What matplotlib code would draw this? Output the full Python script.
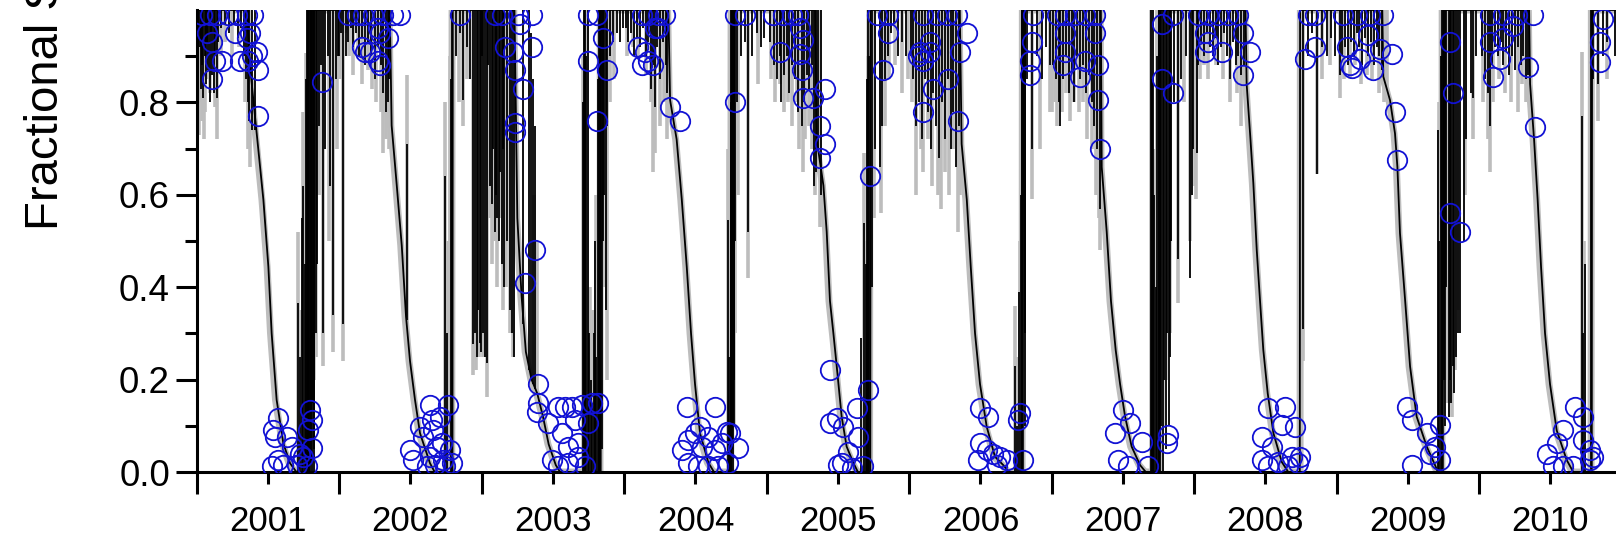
import matplotlib
matplotlib.use("Agg")
import matplotlib.pyplot as plt
import numpy as np

plt.rcParams['font.family'] = ['Liberation Sans', 'DejaVu Sans']

YEARS = [2001, 2002, 2003, 2004, 2005, 2006, 2007, 2008, 2009, 2010]
Y_TICKS = [0.0, 0.2, 0.4, 0.6, 0.8]
Y_LABEL = "Fractional SCA"

# ---- black model: envelope vertices (decimal year, value) ----
BLK_ENV_X = [2001.000, 2001.350, 2001.380, 2001.421, 2001.468, 2001.503, 2001.526, 2001.561, 2001.608, 2001.655, 2001.700, 2001.795, 2001.797,
             2002.355, 2002.368, 2002.404, 2002.439, 2002.469, 2002.497, 2002.532, 2002.567, 2002.637, 2002.670, 2002.795, 2002.797,
             2003.230, 2003.250, 2003.280, 2003.310, 2003.350, 2003.390, 2003.430, 2003.470, 2003.520, 2003.550, 2003.835, 2003.837,
             2004.310, 2004.322, 2004.368, 2004.404, 2004.439, 2004.469, 2004.497, 2004.532, 2004.591, 2004.630, 2004.752, 2004.754,
             2005.340, 2005.351, 2005.398, 2005.421, 2005.444, 2005.468, 2005.491, 2005.526, 2005.561, 2005.608, 2005.640, 2005.727, 2005.729,
             2006.355, 2006.368, 2006.404, 2006.432, 2006.462, 2006.497, 2006.544, 2006.602, 2006.660, 2006.700, 2006.798, 2006.800,
             2007.345, 2007.351, 2007.386, 2007.416, 2007.449, 2007.480, 2007.515, 2007.561, 2007.620, 2007.660, 2007.760, 2007.762,
             2008.360, 2008.368, 2008.392, 2008.415, 2008.439, 2008.462, 2008.485, 2008.516, 2008.556, 2008.614, 2008.660, 2008.741, 2008.743,
             2009.320, 2009.327, 2009.374, 2009.409, 2009.426, 2009.444, 2009.480, 2009.515, 2009.561, 2009.632, 2009.690, 2009.710, 2009.745, 2009.747,
             2010.350, 2010.357, 2010.385, 2010.410, 2010.434, 2010.462, 2010.497, 2010.544, 2010.614, 2010.660, 2010.790, 2010.792, 2011.000]
BLK_ENV_V = [1, 1, .86, .733, .589, .444, .300, .156, .062, .019, 0, 0, 1,
             1, .75, .62, .49, .336, .24, .156, .084, .019, 0, 0, 1,
             1, .55, .38, .26, .20, .17, .12, .06, .015, 0, 0, 1,
             1, .805, .72, .59, .444, .30, .19, .084, .02, 0, 0, 1,
             1, .72, .62, .52, .37, .30, .23, .12, .055, .02, 0, 0, 1,
             1, .71, .59, .444, .30, .19, .098, .033, .015, 0, 0, 1,
             1, .66, .52, .37, .264, .19, .12, .055, .015, 0, 0, 1,
             1, .84, .733, .625, .48, .37, .264, .17, .084, .022, 0, 0, 1,
             1, .856, .805, .733, .66, .517, .372, .228, .12, .055, .015, 0, 0, 1,
             1, .84, .72, .59, .444, .30, .19, .09, .026, 0, 0, 1, 1]

# ---- grey model: envelope vertices (melts slightly earlier) ----
GRY_ENV_X = [2001.000, 2001.345, 2001.372, 2001.412, 2001.458, 2001.494, 2001.518, 2001.553, 2001.600, 2001.648, 2001.690, 2001.790, 2001.792,
             2002.350, 2002.362, 2002.397, 2002.432, 2002.462, 2002.490, 2002.525, 2002.560, 2002.630, 2002.665, 2002.790, 2002.792,
             2003.225, 2003.245, 2003.275, 2003.305, 2003.345, 2003.385, 2003.425, 2003.465, 2003.515, 2003.545, 2003.830, 2003.832,
             2004.305, 2004.316, 2004.361, 2004.397, 2004.432, 2004.462, 2004.490, 2004.525, 2004.584, 2004.625, 2004.748, 2004.750,
             2005.335, 2005.345, 2005.391, 2005.414, 2005.437, 2005.461, 2005.484, 2005.519, 2005.554, 2005.601, 2005.635, 2005.722, 2005.724,
             2006.350, 2006.362, 2006.397, 2006.425, 2006.455, 2006.490, 2006.537, 2006.595, 2006.653, 2006.695, 2006.792, 2006.794,
             2007.340, 2007.346, 2007.379, 2007.409, 2007.442, 2007.473, 2007.508, 2007.554, 2007.613, 2007.655, 2007.750, 2007.752,
             2008.355, 2008.362, 2008.385, 2008.408, 2008.432, 2008.455, 2008.478, 2008.509, 2008.549, 2008.607, 2008.655, 2008.743, 2008.745,
             2009.315, 2009.322, 2009.367, 2009.402, 2009.419, 2009.437, 2009.473, 2009.508, 2009.554, 2009.625, 2009.683, 2009.705, 2009.738, 2009.740,
             2010.345, 2010.351, 2010.378, 2010.403, 2010.427, 2010.455, 2010.490, 2010.537, 2010.607, 2010.655, 2010.785, 2010.787, 2011.000]
GRY_ENV_V = BLK_ENV_V[:]

# ---- black model: downward spikes from 1.0 (x, lowest value) ----
BLK_DIP_X = [2001.005, 2001.012, 2001.020, 2001.028, 2001.035, 2001.045, 2001.055, 2001.062, 2001.070, 2001.080, 2001.090, 2001.100, 2001.110,
             2001.120, 2001.130, 2001.140, 2001.150, 2001.170, 2001.200, 2001.230, 2001.260, 2001.290, 2001.310, 2001.330, 2001.345, 2001.360,
             2001.370, 2001.390, 2001.410, 2001.800, 2001.805, 2001.810, 2001.815, 2001.820, 2001.826, 2001.835, 2001.845, 2001.855, 2001.870,
             2001.885, 2001.900, 2001.920, 2001.935, 2001.955, 2001.975, 2001.990,
             2002.000, 2002.015, 2002.029, 2002.045, 2002.060, 2002.080, 2002.100, 2002.120, 2002.140, 2002.160, 2002.180, 2002.200, 2002.220,
             2002.250, 2002.270, 2002.290, 2002.310, 2002.325, 2002.340, 2002.350, 2002.820, 2002.850, 2002.871, 2002.900, 2002.920, 2002.941,
             2002.955, 2002.965, 2002.975, 2002.985, 2002.995,
             2003.005, 2003.012, 2003.020, 2003.035, 2003.045, 2003.060, 2003.070, 2003.080, 2003.090, 2003.100, 2003.110, 2003.120, 2003.130,
             2003.140, 2003.150, 2003.160, 2003.180, 2003.200, 2003.215, 2003.225, 2003.845, 2003.850, 2003.860, 2003.870, 2003.880, 2003.900,
             2003.920, 2003.950, 2003.970, 2003.990,
             2004.010, 2004.030, 2004.050, 2004.070, 2004.090, 2004.110, 2004.130, 2004.150, 2004.170, 2004.190, 2004.205, 2004.217, 2004.230,
             2004.250, 2004.270, 2004.290, 2004.300, 2004.758, 2004.763, 2004.768, 2004.773, 2004.780, 2004.790, 2004.820, 2004.850, 2004.871,
             2004.900, 2004.930, 2004.960, 2004.980,
             2005.020, 2005.050, 2005.070, 2005.090, 2005.100, 2005.120, 2005.140, 2005.160, 2005.180, 2005.200, 2005.220, 2005.245, 2005.260,
             2005.280, 2005.300, 2005.320, 2005.330, 2005.345, 2005.360, 2005.380, 2005.740, 2005.760, 2005.795, 2005.810, 2005.830, 2005.850,
             2005.870, 2005.890, 2005.920, 2005.950, 2005.980,
             2006.010, 2006.030, 2006.050, 2006.070, 2006.090, 2006.110, 2006.130, 2006.150, 2006.170, 2006.190, 2006.210, 2006.230, 2006.250,
             2006.270, 2006.290, 2006.310, 2006.330, 2006.350, 2006.810, 2006.815, 2006.830, 2006.860, 2006.900, 2006.930, 2006.960, 2006.990,
             2007.010, 2007.030, 2007.050, 2007.060, 2007.080, 2007.100, 2007.120, 2007.140, 2007.160, 2007.180, 2007.200, 2007.220, 2007.240,
             2007.260, 2007.280, 2007.300, 2007.320, 2007.340, 2007.770, 2007.780, 2007.790, 2007.800, 2007.810, 2007.820, 2007.830, 2007.840,
             2007.860, 2007.889, 2007.910, 2007.940, 2007.971, 2007.985, 2007.995,
             2008.018, 2008.030, 2008.050, 2008.070, 2008.090, 2008.110, 2008.130, 2008.150, 2008.170, 2008.190, 2008.210, 2008.230, 2008.250,
             2008.270, 2008.290, 2008.310, 2008.330, 2008.350, 2008.765, 2008.800, 2008.830, 2008.860, 2008.900, 2008.930, 2008.960, 2008.990,
             2009.020, 2009.040, 2009.060, 2009.080, 2009.100, 2009.120, 2009.140, 2009.160, 2009.180, 2009.200, 2009.220, 2009.240, 2009.260,
             2009.280, 2009.300, 2009.315, 2009.752, 2009.760, 2009.770, 2009.785, 2009.795, 2009.805, 2009.815, 2009.825, 2009.840, 2009.850,
             2009.866, 2009.890, 2009.910, 2009.940, 2009.960, 2009.980,
             2010.020, 2010.040, 2010.060, 2010.076, 2010.090, 2010.110, 2010.130, 2010.150, 2010.170, 2010.190, 2010.210, 2010.230, 2010.250,
             2010.270, 2010.290, 2010.310, 2010.330, 2010.345, 2010.800, 2010.836, 2010.870, 2010.900, 2010.950]
BLK_DIP_LO = [.85, .80, .92, .83, .88, .81, .90, .84, .93, .87, .80, .95, .86,
              .82, .90, .81, .93, .96, .97, .95, .97, .94, .96, .90, .85, .80,
              .76, .74, .74, .02, .10, .0, .15, .05, .0, .30, .45, .75, .88,
              .30, .70, .90, .62, .34, .85, .90,
              .90, .95, .32, .90, .93, .96, .92, .95, .90, .94, .88, .93, .90,
              .85, .92, .88, .82, .78, .80, .85, .90, .95, .805, .92, .85, .278,
              .30, .25, .35, .28, .26,
              .90, .30, .25, .235, .88, .62, .58, .70, .52, .60, .55, .50, .65,
              .45, .70, .40, .50, .35, .30, .25, .05, .50, .60, .35, .75, .90,
              .93, .95, .93, .96,
              .96, .93, .95, .90, .94, .92, .96, .90, .93, .83, .88, .79, .92,
              .85, .93, .88, .82, .05, .0, .20, .10, .50, .80, .90, .93, .52,
              .90, .95, .92, .94,
              .93, .88, .85, .90, .80, .86, .90, .82, .88, .85, .78, .75, .80,
              .86, .83, .88, .62, .65, .70, .60, .40, .70, .66, .75, .85, .90,
              .95, .97, .90, .93, .90,
              .90, .85, .75, .80, .72, .85, .78, .70, .82, .75, .68, .80, .72,
              .85, .70, .78, .66, .75, .30, .10, .85, .70, .90, .85, .92, .88,
              .88, .85, .80, .75, .85, .90, .82, .87, .80, .90, .85, .88, .82,
              .86, .80, .75, .70, .57, .10, .0, .20, .05, .30, .10, .25, .50,
              .80, .46, .85, .90, .42, .60, .70,
              .69, .88, .93, .90, .95, .92, .90, .94, .88, .92, .95, .90, .85,
              .93, .88, .90, .86, .88, .31, .90, .95, .646, .92, .90, .94, .90,
              .86, .90, .92, .88, .93, .90, .95, .92, .88, .94, .90, .93, .88,
              .92, .90, .87, .20, .10, .40, .12, .20, .15, .23, .17, .25, .30,
              .30, .50, .72, .82, .81, .90,
              .90, .85, .82, .75, .88, .92, .90, .93, .88, .91, .86, .90, .87,
              .92, .88, .90, .85, .86, .85, .84, .90, .93, .90]

# ---- black model: upward spikes from 0 (x, highest value) ----
BLK_UP_X = [2001.713, 2001.728, 2001.738, 2001.749, 2001.757, 2001.765, 2001.772, 2001.778, 2001.784, 2001.790,
            2002.743, 2002.760, 2002.785, 2002.792,
            2003.713, 2003.720, 2003.728, 2003.735, 2003.745, 2003.755, 2003.765, 2003.775, 2003.785, 2003.795, 2003.805, 2003.815, 2003.825, 2003.832,
            2004.731, 2004.737, 2004.742, 2004.746, 2004.750,
            2005.660, 2005.680, 2005.695, 2005.705, 2005.713, 2005.720,
            2006.743, 2006.758, 2006.773, 2006.785, 2006.790, 2006.795,
            2007.697, 2007.703, 2007.710, 2007.720, 2007.730, 2007.740, 2007.750, 2007.755,
            2009.713, 2009.720, 2009.730, 2009.740,
            2010.719, 2010.728, 2010.740, 2010.785]
BLK_UP_HI = [.365, .25, .55, .618, .45, .85, 1.0, .70, 1.0, 1.0,
             .64, .30, .85, 1.0,
             .80, 1.0, 1.0, .90, 1.0, .30, .20, .15, .30, .50, .25, .85, 1.0, 1.0,
             .545, .25, .10, .80, 1.0,
             .29, .54, .45, .85, 1.0, .90,
             .23, .10, .39, .60, 1.0, 1.0,
             1.0, .85, 1.0, .60, .40, .90, 1.0, 1.0,
             .74, .50, .90, 1.0,
             .77, .30, .45, 1.0]

# ---- black model: spikes rising from the melt curve (x, low, high) ----
BLK_MID_X = [2002.474, 2003.290, 2003.330, 2003.345, 2003.360, 2003.375]
BLK_MID_LO = [.33, .32, .22, .20, .19, .18]
BLK_MID_HI = [.71, 1.0, 1.0, .95, .85, .75]

# ---- grey model spikes ----
GRY_DIP_X = [2001.003, 2001.010, 2001.018, 2001.030, 2001.040, 2001.050, 2001.060, 2001.075, 2001.090, 2001.110, 2001.130, 2001.145, 2001.170,
             2001.200, 2001.250, 2001.300, 2001.340, 2001.360, 2001.375, 2001.800, 2001.810, 2001.820, 2001.838, 2001.860, 2001.887, 2001.930,
             2001.960, 2001.985,
             2002.005, 2002.029, 2002.050, 2002.070, 2002.100, 2002.130, 2002.160, 2002.200, 2002.230, 2002.260, 2002.290, 2002.310, 2002.330,
             2002.350, 2002.840, 2002.871, 2002.900, 2002.941, 2002.960, 2002.980, 2002.995,
             2003.012, 2003.035, 2003.060, 2003.075, 2003.090, 2003.110, 2003.130, 2003.150, 2003.170, 2003.200, 2003.220, 2003.850, 2003.877,
             2003.900, 2003.930,
             2004.020, 2004.060, 2004.100, 2004.150, 2004.190, 2004.205, 2004.217, 2004.250, 2004.280, 2004.300, 2004.770, 2004.780, 2004.800,
             2004.871, 2004.940,
             2005.030, 2005.060, 2005.090, 2005.120, 2005.150, 2005.180, 2005.210, 2005.230, 2005.253, 2005.270, 2005.300, 2005.320, 2005.340,
             2005.375, 2005.750, 2005.800, 2005.830, 2005.860, 2005.900, 2005.950, 2005.990,
             2006.020, 2006.050, 2006.080, 2006.100, 2006.130, 2006.160, 2006.200, 2006.220, 2006.250, 2006.280, 2006.310, 2006.340, 2006.360,
             2006.860, 2006.920, 2006.990,
             2007.005, 2007.020, 2007.040, 2007.070, 2007.100, 2007.130, 2007.160, 2007.190, 2007.220, 2007.250, 2007.280, 2007.310, 2007.330,
             2007.340, 2007.780, 2007.800, 2007.830, 2007.889, 2007.930, 2007.970,
             2008.005, 2008.015, 2008.040, 2008.070, 2008.100, 2008.150, 2008.200, 2008.250, 2008.300, 2008.330, 2008.765, 2008.860, 2008.900,
             2008.950,
             2009.020, 2009.050, 2009.090, 2009.130, 2009.170, 2009.210, 2009.250, 2009.300, 2009.330, 2009.350, 2009.760, 2009.780, 2009.807,
             2009.830, 2009.850, 2009.900, 2009.960,
             2010.030, 2010.060, 2010.076, 2010.100, 2010.140, 2010.180, 2010.220, 2010.270, 2010.300, 2010.330, 2010.836, 2010.900]
GRY_DIP_LO = [.74, .78, .73, .80, .76, .72, .78, .85, .82, .88, .79, .72, .90,
              .93, .90, .92, .80, .70, .66, .10, .0, .20, .25, .60, .23, .50,
              .26, .70,
              .85, .24, .95, .90, .86, .90, .84, .87, .83, .80, .78, .69, .72,
              .70, .80, .75, .85, .21, .22, .25, .30,
              .25, .163, .55, .45, .50, .40, .55, .35, .40, .30, .25, .40, .20,
              .80, .85,
              .90, .92, .90, .86, .80, .65, .69, .75, .80, .72, .10, .30, .60,
              .42, .84,
              .85, .80, .84, .78, .80, .75, .80, .70, .65, .72, .75, .70, .60,
              .53, .55, .56, .75, .85, .88, .82, .85,
              .80, .60, .70, .65, .72, .62, .60, .57, .65, .60, .70, .52, .60,
              .59, .70, .78,
              .78, .80, .75, .78, .82, .76, .80, .78, .80, .72, .70, .60, .55,
              .48, .10, .20, .30, .365, .80, .50,
              .62, .59, .85, .88, .85, .88, .85, .80, .82, .75, .24, .646, .85,
              .88,
              .81, .85, .85, .88, .84, .86, .85, .82, .80, .81, .20, .15, .12,
              .22, .35, .60, .72,
              .80, .72, .65, .80, .85, .82, .80, .78, .84, .80, .76, .85]

GRY_UP_X = [2001.708, 2001.725, 2001.745, 2001.760, 2001.768, 2001.780,
            2002.743, 2002.760, 2002.780, 2002.790,
            2003.713, 2003.725, 2003.740, 2003.760, 2003.780, 2003.800, 2003.820,
            2004.728, 2004.740, 2004.750,
            2005.680, 2005.700, 2005.710,
            2006.745, 2006.760, 2006.778, 2006.790,
            2007.700, 2007.720, 2007.740,
            2009.715, 2009.730,
            2010.720, 2010.735, 2010.785]
GRY_UP_HI = [.52, .35, .78, .60, .906, 1.0,
             .80, .50, .90, 1.0,
             .90, 1.0, 1.0, .40, .35, .60, 1.0,
             .70, .90, 1.0,
             .69, .50, .90,
             .36, .25, .50, 1.0,
             1.0, .70, 1.0,
             .80, .95,
             .91, .50, 1.0]

GRY_MID_X = [2002.474, 2003.370, 2003.390]
GRY_MID_LO = [.33, .17, .15]
GRY_MID_HI = [.86, .60, .50]

# ---- observations (blue circles) ----
OBS_X = [2001.035, 2001.094, 2001.140, 2001.222, 2001.281, 2001.351, 2001.398, 2001.070, 2001.105, 2001.129, 2001.175, 2001.105, 2001.269,
         2001.374, 2001.304, 2001.363, 2001.421, 2001.433, 2001.351, 2001.386, 2001.433, 2001.877, 2001.573, 2001.538, 2001.550, 2001.632,
         2001.667, 2001.573, 2001.608, 2001.702, 2001.749, 2001.807, 2001.795, 2001.807, 2001.784, 2001.725, 2001.772, 2001.526,
         2002.064, 2002.123, 2002.170, 2002.240, 2002.310, 2002.380, 2002.427, 2002.275, 2002.287, 2002.345, 2002.158, 2002.181, 2002.216,
         2002.275, 2002.287, 2002.848, 2002.497, 2002.520, 2002.567, 2002.591, 2002.637, 2002.649, 2002.661, 2002.684, 2002.719, 2002.731,
         2002.766, 2002.708, 2002.778, 2002.743, 2002.614, 2002.637, 2002.673, 2002.789,
         2003.094, 2003.140, 2003.257, 2003.351, 2003.269, 2003.164, 2003.222, 2003.351, 2003.234, 2003.292, 2003.234, 2003.234, 2003.374,
         2003.304, 2003.749, 2003.807, 2003.854, 2003.749, 2003.877, 2003.807, 2003.398, 2003.398, 2003.386, 2003.468, 2003.538, 2003.585,
         2003.632, 2003.702, 2003.772, 2003.819, 2003.491, 2003.561, 2003.608, 2003.678, 2003.678, 2003.725, 2003.538, 2003.608, 2003.749,
         2003.655,
         2004.123, 2004.170, 2004.240, 2004.287, 2004.216, 2004.240, 2004.099, 2004.146, 2004.123, 2004.170, 2004.205, 2004.322, 2004.392,
         2004.778, 2004.848, 2004.778, 2004.439, 2004.637, 2004.404, 2004.450, 2004.497, 2004.532, 2004.544, 2004.591, 2004.637, 2004.684,
         2004.719, 2004.743, 2004.801, 2004.450, 2004.520, 2004.591, 2004.661, 2004.731,
         2005.047, 2005.117, 2005.175, 2005.222, 2005.094, 2005.234, 2005.257, 2005.234, 2005.246, 2005.257, 2005.327, 2005.409, 2005.374,
         2005.409, 2005.374, 2005.772, 2005.854, 2005.854, 2005.819, 2005.725, 2005.444, 2005.444, 2005.491, 2005.538, 2005.573, 2005.632,
         2005.713, 2005.643, 2005.526, 2005.596, 2005.503, 2005.678,
         2006.099, 2006.193, 2006.263, 2006.333, 2006.404, 2006.076, 2006.099, 2006.146, 2006.170, 2006.275, 2006.357, 2006.099, 2006.345,
         2006.146, 2006.064, 2006.860, 2006.848, 2006.848, 2006.871, 2006.497, 2006.556, 2006.497, 2006.544, 2006.591, 2006.637, 2006.684,
         2006.485, 2006.614, 2006.801, 2006.778, 2006.766,
         2007.035, 2007.094, 2007.164, 2007.234, 2007.304, 2007.094, 2007.094, 2007.082, 2007.199, 2007.234, 2007.304, 2007.327, 2007.327,
         2007.339, 2007.772, 2007.854, 2007.772, 2007.854, 2007.503, 2007.550, 2007.444, 2007.632, 2007.468, 2007.538, 2007.678, 2007.819,
         2007.807,
         2008.029, 2008.099, 2008.170, 2008.240, 2008.310, 2008.076, 2008.099, 2008.076, 2008.193, 2008.345, 2008.392, 2008.345, 2008.848,
         2008.778, 2008.848, 2008.801, 2008.520, 2008.637, 2008.614, 2008.708, 2008.474, 2008.544, 2008.474, 2008.591, 2008.684, 2008.743,
         2008.731, 2008.661, 2008.520,
         2009.047, 2009.140, 2009.234, 2009.327, 2009.070, 2009.094, 2009.105, 2009.164, 2009.257, 2009.222, 2009.304, 2009.386, 2009.409,
         2009.421, 2009.795, 2009.819, 2009.795, 2009.866, 2009.491, 2009.526, 2009.632, 2009.725, 2009.690, 2009.526, 2009.725, 2009.655,
         2010.076, 2010.170, 2010.263, 2010.380, 2010.076, 2010.099, 2010.146, 2010.170, 2010.240, 2010.345, 2010.392, 2010.871, 2010.848,
         2010.848, 2010.673, 2010.731, 2010.591, 2010.544, 2010.474, 2010.731, 2010.778, 2010.778, 2010.520, 2010.591, 2010.661, 2010.801]
OBS_V = [.99, .99, .99, .99, .99, .99, .99, .95, .93, .89, .89, .85, .95,
         .95, .89, .89, .91, .87, .94, .90, .77, .845, .116, .091, .076, .076,
         .055, .026, .015, .015, .033, .051, .134, .113, .091, .040, .012, .012,
         .99, .99, .99, .99, .99, .99, .99, .96, .95, .94, .92, .91, .91,
         .89, .88, .99, .048, .026, .098, .076, .145, .113, .091, .055, .062, .026,
         .145, .120, .048, .012, .012, .033, .015, .019,
         .99, .99, .99, .99, .97, .92, .91, .92, .87, .83, .755, .735, .48,
         .41, .99, .99, .94, .89, .87, .76, .19, .15, .13, .105, .14, .14,
         .14, .145, .15, .15, .026, .084, .055, .062, .033, .012, .012, .019, .105,
         .113,
         .99, .99, .99, .99, .96, .96, .92, .91, .88, .89, .88, .79, .76,
         .99, .99, .80, .14, .14, .048, .07, .084, .098, .055, .076, .048, .062,
         .087, .084, .051, .019, .012, .012, .012, .019,
         .99, .99, .99, .99, .91, .96, .935, .905, .87, .81, .81, .83, .75,
         .71, .68, .99, .99, .95, .87, .64, .22, .105, .116, .098, .044, .138,
         .177, .076, .019, .008, .015, .012,
         .99, .99, .99, .99, .95, .91, .89, .93, .83, .85, .91, .78, .76,
         .91, .90, .93, .89, .86, .99, .138, .12, .062, .048, .04, .033, .026,
         .026, .015, .026, .127, .113,
         .99, .99, .99, .99, .99, .95, .91, .88, .855, .89, .95, .88, .805,
         .70, .97, .99, .85, .82, .134, .105, .084, .066, .026, .012, .012, .08,
         .062,
         .99, .99, .99, .99, .99, .95, .93, .91, .91, .95, .91, .86, .92,
         .895, .99, .99, .138, .141, .102, .098, .076, .055, .026, .022, .033, .033,
         .019, .012, .012,
         .99, .99, .99, .99, .92, .88, .875, .895, .87, .945, .915, .905, .78,
         .675, .93, .82, .56, .52, .141, .113, .084, .102, .055, .015, .026, .04,
         .99, .99, .99, .99, .93, .855, .895, .94, .965, .877, .747, .98, .93,
         .888, .141, .12, .091, .062, .04, .069, .048, .026, .012, .012, .012, .033]

BLACK = "#000000"
GREY = "#bdbdbd"
BLUE = "#1212d4"

fig = plt.figure(figsize=(16.16, 5.40), dpi=100)
ax = fig.add_axes([196.7 / 1616, 68 / 540, 1425 / 1616, 462 / 540])

# grey model
ax.plot(GRY_ENV_X, GRY_ENV_V, color=GREY, lw=5.0, solid_joinstyle='round', zorder=1)
ax.vlines(GRY_DIP_X, GRY_DIP_LO, 1.0, color=GREY, lw=2.6, zorder=1)
ax.vlines(GRY_UP_X, 0.0, GRY_UP_HI, color=GREY, lw=2.6, zorder=1)
ax.vlines(GRY_MID_X, GRY_MID_LO, GRY_MID_HI, color=GREY, lw=2.6, zorder=1)

# black model
ax.plot(BLK_ENV_X, BLK_ENV_V, color=BLACK, lw=1.3, zorder=2)
ax.vlines(BLK_DIP_X, BLK_DIP_LO, 1.0, color=BLACK, lw=1.3, zorder=2)
ax.vlines(BLK_UP_X, 0.0, BLK_UP_HI, color=BLACK, lw=1.3, zorder=2)
ax.vlines(BLK_MID_X, BLK_MID_LO, BLK_MID_HI, color=BLACK, lw=1.3, zorder=2)

# observations
ax.plot(OBS_X, OBS_V, linestyle='none', marker='o', markersize=14,
        markerfacecolor='none', markeredgecolor=BLUE, markeredgewidth=1.3, zorder=3)

ax.set_xlim(2001, 2011)
ax.set_ylim(0, 1.0)

ax.set_xticks(list(range(2001, 2012)))
ax.set_xticks([y + 0.5 for y in YEARS], minor=True)
ax.set_xticklabels([], minor=False)
ax.set_xticklabels([str(y) for y in YEARS], minor=True, fontsize=25)
ax.set_yticks(Y_TICKS)
ax.set_yticklabels([f"{v:.1f}" for v in Y_TICKS], fontsize=26.5)
ax.set_yticks([0.1, 0.3, 0.5, 0.7, 0.9], minor=True)

ax.tick_params(axis='x', which='major', length=15.8, width=2.2, direction='out', labelbottom=False)
ax.tick_params(axis='x', which='minor', length=8.6, width=2.2, direction='out', pad=15)
ax.tick_params(axis='y', which='major', length=14.8, width=2.2, direction='out', pad=4.5)
ax.tick_params(axis='y', which='minor', length=8.6, width=2.2, direction='out')

for s in ['top', 'right']:
    ax.spines[s].set_visible(False)
for s in ['left', 'bottom']:
    ax.spines[s].set_linewidth(2.2)

fig.text(24 / 1616, (540 - 230) / 540, Y_LABEL, rotation=90, ha='left', va='bottom', fontsize=34)

fig.savefig("out.png", dpi=100)
